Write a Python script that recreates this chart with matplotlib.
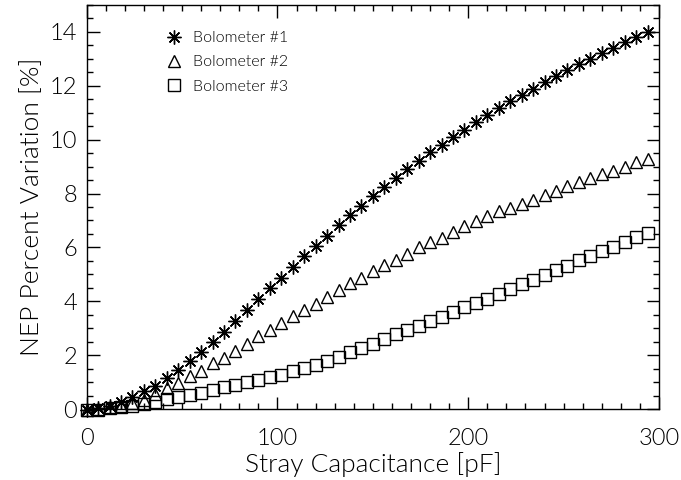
import matplotlib
matplotlib.use('Agg')
import matplotlib.pyplot as plt
from matplotlib.ticker import MultipleLocator

plt.rcParams['font.family'] = ['Lato', 'DejaVu Sans']
plt.rcParams['font.weight'] = 300

# stray capacitance [pF]
cap = [0, 6, 12, 18, 24, 30, 36, 42, 48, 54, 60, 66, 72, 78, 84, 90, 96, 102, 108, 114,
       120, 126, 132, 138, 144, 150, 156, 162, 168, 174, 180, 186, 192, 198, 204, 210,
       216, 222, 228, 234, 240, 246, 252, 258, 264, 270, 276, 282, 288, 294]

bolo1 = [-0.05, 0.03, 0.11, 0.27, 0.43, 0.67, 0.85, 1.14, 1.44, 1.78, 2.12, 2.49, 2.86,
         3.28, 3.69, 4.10, 4.49, 4.88, 5.27, 5.68, 6.05, 6.44, 6.85, 7.22, 7.54, 7.89,
         8.23, 8.58, 8.91, 9.22, 9.53, 9.81, 10.09, 10.36, 10.64, 10.91, 11.17, 11.43,
         11.66, 11.88, 12.15, 12.37, 12.58, 12.80, 13.01, 13.21, 13.42, 13.63, 13.81, 14.01]

bolo2 = [-0.05, 0.0, 0.06, 0.11, 0.21, 0.33, 0.56, 0.77, 0.97, 1.22, 1.42, 1.69, 1.91,
         2.17, 2.43, 2.70, 2.93, 3.20, 3.47, 3.69, 3.91, 4.16, 4.43, 4.68, 4.88, 5.12,
         5.33, 5.54, 5.77, 6.01, 6.20, 6.36, 6.57, 6.78, 6.97, 7.15, 7.34, 7.46, 7.62,
         7.77, 7.96, 8.11, 8.28, 8.42, 8.58, 8.73, 8.85, 9.00, 9.16, 9.28]

bolo3 = [-0.05, -0.02, 0.03, 0.06, 0.11, 0.19, 0.27, 0.36, 0.43, 0.52, 0.60, 0.70, 0.80,
         0.89, 1.00, 1.08, 1.17, 1.27, 1.40, 1.52, 1.65, 1.78, 1.94, 2.10, 2.26, 2.42,
         2.60, 2.78, 2.94, 3.10, 3.26, 3.43, 3.62, 3.79, 3.94, 4.10, 4.28, 4.44, 4.63,
         4.80, 4.96, 5.15, 5.30, 5.52, 5.67, 5.86, 6.01, 6.20, 6.38, 6.54]

labels = ['Bolometer #1', 'Bolometer #2', 'Bolometer #3']

fig = plt.figure(figsize=(6.81, 4.8), dpi=100)
ax = fig.add_axes([0.1273, 0.1479, 0.8404, 0.8417])

mk = dict(linestyle='none', color='black', markerfacecolor='none',
          markeredgewidth=1.0, clip_on=False)
ax.plot(cap, bolo1, marker=(8, 2, 0), markersize=10, label=labels[0], **mk)
ax.plot(cap, bolo2, marker='^', markersize=9, label=labels[1], **mk)
ax.plot(cap, bolo3, marker='s', markersize=8, label=labels[2], **mk)

ax.set_xlim(0, 300)
ax.set_ylim(0, 15)
ax.xaxis.set_major_locator(MultipleLocator(100))
ax.xaxis.set_minor_locator(MultipleLocator(10))
ax.yaxis.set_major_locator(MultipleLocator(2))
ax.yaxis.set_minor_locator(MultipleLocator(0.5))
ax.tick_params(which='both', direction='in', top=True, right=True, width=1.0)
ax.tick_params(which='major', length=9)
ax.tick_params(which='minor', length=4.5)
ax.tick_params(axis='x', pad=14, labelsize=17)
ax.tick_params(axis='y', pad=7, labelsize=17)
for s in ax.spines.values():
    s.set_linewidth(1.0)

ax.set_xlabel('Stray Capacitance [pF]', fontsize=19, fontweight=300, labelpad=2)
ax.set_ylabel('NEP Percent Variation [%]', fontsize=19, fontweight=300, labelpad=4)

leg = ax.legend(loc='upper left', bbox_to_anchor=(0.125, 0.955), frameon=False,
                fontsize=11.5, handlelength=1.0, handletextpad=0.65, labelspacing=0.62,
                borderpad=0)
for t in leg.get_texts():
    t.set_fontweight(300)
for t in ax.get_xticklabels() + ax.get_yticklabels():
    t.set_fontweight(300)

fig.savefig('out.png', dpi=100)
